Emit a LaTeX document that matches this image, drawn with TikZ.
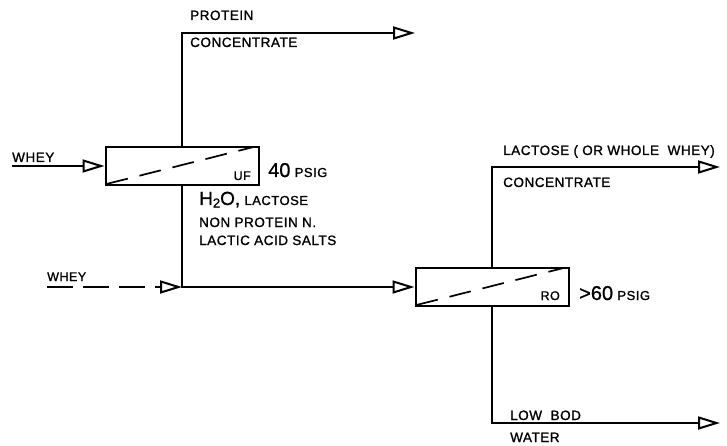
\documentclass[tikz,border=0pt]{standalone}
\usepackage{fontspec}
\newfontfamily\penfont[LetterSpace=4,FakeBold=1.2]{Liberation Sans}
\newfontfamily\bigpen[FakeBold=0.8]{Liberation Sans}
\usetikzlibrary{arrows.meta, positioning}

\tikzset{
  pipe/.style={line width=2pt},
  flow/.style={pipe, -{Triangle[open,length=22pt,width=13pt]}},
  unit/.style={draw, line width=2pt, minimum width=153pt, minimum height=38pt, inner sep=0pt},
  membrane/.style={line width=1.7pt, dash pattern=on 22pt off 12pt},
  tag/.style={font=\penfont\fontsize{13.5}{15}\selectfont, inner sep=0pt, anchor=base west},
  small tag/.style={tag, font=\penfont\fontsize{12.5}{14}\selectfont},
}

\begin{document}
\begin{tikzpicture}[x=1pt, y=-1pt]
  \useasboundingbox (0,0) rectangle (727,446);
  % UF stage
  \node[unit] (uf) at (182,166) {};
  \draw[membrane] ([shift={(2,-2)}]uf.south west) -- ([shift={(-6,1)}]uf.north east);
  \node[small tag, anchor=base east] (uflbl) at (251,180) {UF};
  \node[tag] (ufp) at (268,177) {{\bigpen\fontsize{20}{20}\selectfont 40} {\fontsize{13}{13}\selectfont PSIG}};
  \coordinate (wheyin) at (12,166);
  \draw[flow] (wheyin) -- (uf.west);
  \node[tag] (wheya) at (12,162) {WHEY};
  \coordinate (protout) at (415,33);
  \draw[flow] (uf.north) |- (protout);
  \node[tag] (prota) at (190,20) {PROTEIN};
  \node[tag] (protb) at (190,47) {CONCENTRATE};
  % permeate of UF
  \node[tag] (perma) at (199,205) {{\bigpen\fontsize{19}{20}\selectfont H\raisebox{-2.5pt}{\fontsize{13}{13}\selectfont 2}O,} {\fontsize{13}{13}\selectfont LACTOSE}};
  \node[tag] (permb) at (199,227) {NON PROTEIN N.};
  \node[tag] (permc) at (199,245) {LACTIC ACID SALTS};
  % RO stage
  \node[unit] (ro) at (492,287) {};
  \draw[membrane] ([shift={(2,-2)}]ro.south west) -- ([shift={(-6,1)}]ro.north east);
  \node[small tag, anchor=base east] (rolbl) at (560,300) {RO};
  \node[tag] (rop) at (579,300) {{\bigpen\fontsize{20}{20}\selectfont >60} {\fontsize{13}{13}\selectfont PSIG}};
  \draw[flow] (uf.south) |- (ro.west);
  \coordinate (jn) at (uf.south |- ro.west);
  \coordinate (wheyalt) at (47,287);
  \draw[flow, dash pattern=on 26pt off 10pt] (wheyalt) -- (jn);
  \node[small tag] (wheyb) at (47,281) {WHEY};
  \coordinate (lacout) at (720,167);
  \draw[flow] (ro.north) |- (lacout);
  \node[tag] (laca) at (503,155) {LACTOSE ( OR WHOLE \ WHEY)};
  \node[tag] (lacb) at (503,187) {CONCENTRATE};
  \coordinate (watout) at (720,423);
  \draw[flow] (ro.south) |- (watout);
  \node[tag] (wata) at (510,420) {LOW \ BOD};
  \node[tag] (watb) at (510,442) {WATER};
\end{tikzpicture}
\end{document}
